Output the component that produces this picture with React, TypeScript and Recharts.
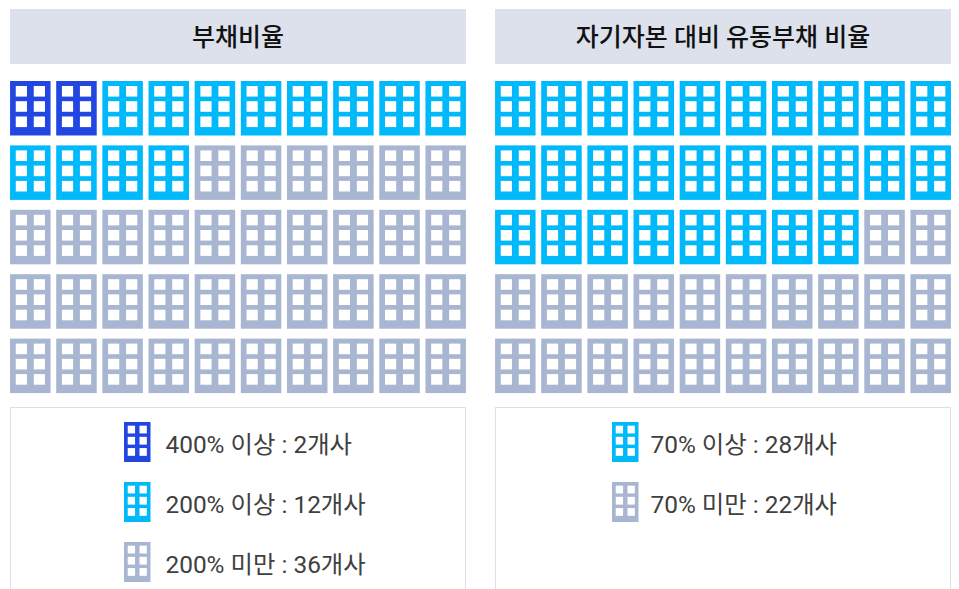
import { Scatter, ScatterChart, XAxis, YAxis } from 'recharts'

const BLUE = '#2146e2'
const CYAN = '#00b9fb'
const GRAY = '#a9b6d1'

const leftTitle = '부채비율'
const leftLabels = ['400% 이상', '200% 이상', '200% 미만']
const leftCounts = [2, 12, 36]
const leftColors = [BLUE, CYAN, GRAY]

const rightTitle = '자기자본 대비 유동부채 비율'
const rightLabels = ['70% 이상', '70% 미만']
const rightCounts = [28, 22]
const rightColors = [CYAN, GRAY]

const COLUMNS = 10
const FONT = 'Roboto, "Noto Sans CJK KR", sans-serif'

// one cell per company, filled row by row
function buildGroups(counts: number[]) {
  let index = 0
  return counts.map((count) => {
    const cells = []
    for (let i = 0; i < count; i++) {
      cells.push({ col: index % COLUMNS, row: Math.floor(index / COLUMNS) })
      index++
    }
    return cells
  })
}

function BuildingRects({ x, y, width, height, fill }: any) {
  const sx = width / 40.5
  const sy = height / 54.5
  const winX = [5.7, 23.7]
  const winY = [5, 20.2, 35.5]
  return (
    <g>
      <rect x={x} y={y} width={width} height={height} fill={fill} />
      {winY.map((wy) =>
        winX.map((wx) => (
          <rect
            key={`${wx}-${wy}`}
            x={x + wx * sx}
            y={y + wy * sy}
            width={11.2 * sx}
            height={10.6 * sy}
            fill="#ffffff"
          />
        )),
      )}
    </g>
  )
}

function Panel({ left, title, labels, counts, colors, legendLeft, legendGap }: any) {
  const groups = buildGroups(counts)
  return (
    <div style={{ position: 'absolute', left, top: 0, width: 456, height: 589 }}>
      <div
        style={{
          position: 'absolute',
          top: 9,
          left: 0,
          width: 456,
          height: 55,
          lineHeight: '57px',
          background: '#dce1ec',
          textAlign: 'center',
          fontSize: 25,
          fontWeight: 500,
          color: '#111111',
        }}
      >
        {title}
      </div>

      <div style={{ position: 'absolute', top: 81, left: 0 }}>
        <ScatterChart width={456} height={313} margin={{ top: 0, right: 0, bottom: 0, left: 0 }}>
          <XAxis type="number" dataKey="col" domain={[-0.44, 9.44]} hide />
          <YAxis type="number" dataKey="row" domain={[-0.423, 4.437]} reversed hide />
          {groups.map((cells: any[], i: number) => (
            <Scatter
              key={labels[i]}
              data={cells}
              isAnimationActive={false}
              shape={(p: any) => (
                <BuildingRects x={p.cx - 20.25} y={p.cy - 27.25} width={40.5} height={54.5} fill={colors[i]} />
              )}
            />
          ))}
        </ScatterChart>
      </div>

      <div
        style={{
          position: 'absolute',
          top: 407,
          left: 0,
          width: 456,
          height: 200,
          boxSizing: 'border-box',
          border: '1px solid #dbe1ec',
          paddingTop: 14,
          paddingLeft: legendLeft - 1,
        }}
      >
        {labels.map((label: string, i: number) => (
          <div
            key={label}
            style={{
              height: 60,
              display: 'flex',
              alignItems: 'flex-start',
              gap: legendGap,
              fontSize: 24.4,
              color: '#404040',
              whiteSpace: 'nowrap',
            }}
          >
            <svg width={26.5} height={40} style={{ display: 'block', flexShrink: 0 }}>
              <BuildingRects x={0} y={0} width={26.5} height={40} fill={colors[i]} />
            </svg>
            <span style={{ lineHeight: '46px' }}>
              {label} : {counts[i]}개사
            </span>
          </div>
        ))}
      </div>
    </div>
  )
}

export default function App() {
  return (
    <div
      style={{
        position: 'fixed',
        left: 0,
        top: 0,
        width: 959,
        height: 589,
        overflow: 'hidden',
        background: '#ffffff',
        fontFamily: FONT,
      }}
    >
      <Panel left={10} title={leftTitle} labels={leftLabels} counts={leftCounts} colors={leftColors} legendLeft={114} legendGap={15} />
      <Panel left={495} title={rightTitle} labels={rightLabels} counts={rightCounts} colors={rightColors} legendLeft={117} legendGap={12} />
    </div>
  )
}
